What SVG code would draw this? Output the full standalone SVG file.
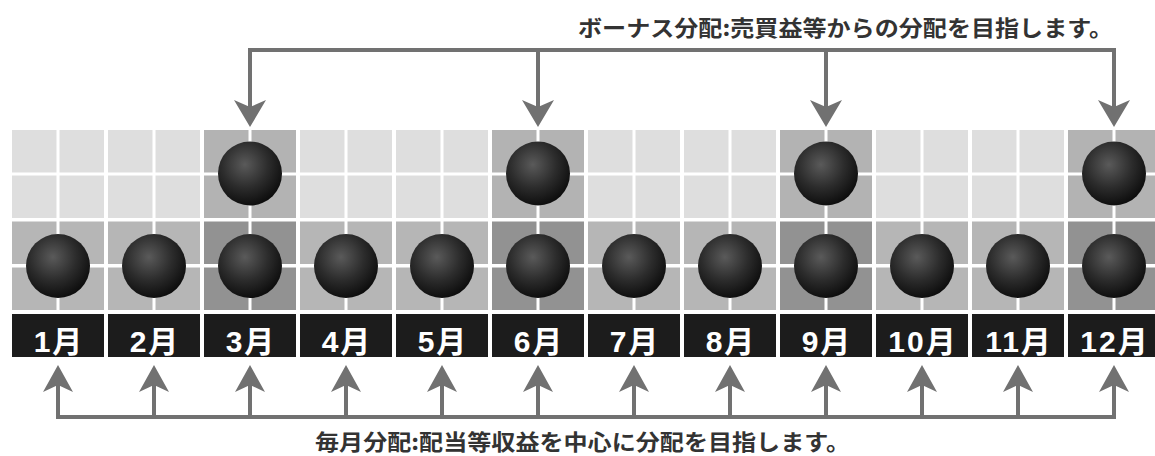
<svg xmlns="http://www.w3.org/2000/svg" width="1155" height="456" viewBox="0 0 1155 456">
<defs>
<radialGradient id="ball" cx="0.42" cy="0.36" r="0.66">
<stop offset="0" stop-color="#5a5a5a"/>
<stop offset="0.55" stop-color="#2c2c2c"/>
<stop offset="1" stop-color="#0c0c0c"/>
</radialGradient>
<g id="col">
<rect class="up" x="0" y="130" width="92" height="88"/>
<rect class="lo" x="0" y="221.5" width="92" height="88.5"/>
<rect class="wl" x="44.5" y="130" width="3" height="180"/>
<rect class="wl" x="0" y="172.5" width="92" height="3"/>
<rect class="wl" x="0" y="264" width="92" height="3.5"/>
<rect class="lb" x="0" y="314" width="92" height="43"/>
</g>
<g id="colH">
<rect class="upH" x="0" y="130" width="92" height="88"/>
<rect class="loH" x="0" y="221.5" width="92" height="88.5"/>
<rect class="wl" x="44.5" y="130" width="3" height="180"/>
<rect class="wl" x="0" y="172.5" width="92" height="3"/>
<rect class="wl" x="0" y="264" width="92" height="3.5"/>
<rect class="lb" x="0" y="314" width="92" height="43"/>
</g>
</defs>
<style>
.up{fill:#dedede}
.lo{fill:#b6b6b6}
.upH{fill:#b3b3b3}
.loH{fill:#929292}
.wl{fill:#ffffff}
.lb{fill:#1c1c1c}
.bl{fill:url(#ball)}
.mt{font-family:"Liberation Sans","Noto Sans CJK JP",sans-serif;font-weight:bold;font-size:30px;fill:#ffffff;text-anchor:middle;letter-spacing:2px}
.cap{font-family:"Noto Sans CJK JP",sans-serif;font-weight:bold;font-size:22px;fill:#333333}
.ln{fill:none;stroke:#717171;stroke-width:4}
.ah{fill:#717171}
</style>
<rect x="0" y="0" width="1155" height="456" fill="#ffffff"/>
<g id="m1"><use href="#col" x="12"/><circle class="bl" cx="58" cy="266" r="32"/><text class="mt" x="59" y="352">1月</text></g>
<g id="m2"><use href="#col" x="108"/><circle class="bl" cx="154" cy="266" r="32"/><text class="mt" x="155" y="352">2月</text></g>
<g id="m3"><use href="#colH" x="204"/><circle class="bl" cx="250" cy="173.5" r="32"/><circle class="bl" cx="250" cy="266" r="32"/><text class="mt" x="251" y="352">3月</text></g>
<g id="m4"><use href="#col" x="300"/><circle class="bl" cx="346" cy="266" r="32"/><text class="mt" x="347" y="352">4月</text></g>
<g id="m5"><use href="#col" x="396"/><circle class="bl" cx="442" cy="266" r="32"/><text class="mt" x="443" y="352">5月</text></g>
<g id="m6"><use href="#colH" x="492"/><circle class="bl" cx="538" cy="173.5" r="32"/><circle class="bl" cx="538" cy="266" r="32"/><text class="mt" x="539" y="352">6月</text></g>
<g id="m7"><use href="#col" x="588"/><circle class="bl" cx="634" cy="266" r="32"/><text class="mt" x="635" y="352">7月</text></g>
<g id="m8"><use href="#col" x="684"/><circle class="bl" cx="730" cy="266" r="32"/><text class="mt" x="731" y="352">8月</text></g>
<g id="m9"><use href="#colH" x="780"/><circle class="bl" cx="826" cy="173.5" r="32"/><circle class="bl" cx="826" cy="266" r="32"/><text class="mt" x="827" y="352">9月</text></g>
<g id="m10"><use href="#col" x="876"/><circle class="bl" cx="922" cy="266" r="32"/><text class="mt" x="923" y="352">10月</text></g>
<g id="m11"><use href="#col" x="972"/><circle class="bl" cx="1018" cy="266" r="32"/><text class="mt" x="1019" y="352">11月</text></g>
<g id="m12"><use href="#colH" x="1068"/><circle class="bl" cx="1114" cy="173.5" r="32"/><circle class="bl" cx="1114" cy="266" r="32"/><text class="mt" x="1115" y="352">12月</text></g>
<g id="connectors">
<path class="ln" d="M250,108 V50 H1114 V108 M538,50 V108 M826,50 V108"/>
<path class="ah" d="M250,127 L234,100 L250,107 L266,100 Z"/>
<path class="ah" d="M538,127 L522,100 L538,107 L554,100 Z"/>
<path class="ah" d="M826,127 L810,100 L826,107 L842,100 Z"/>
<path class="ah" d="M1114,127 L1098,100 L1114,107 L1130,100 Z"/>
<path class="ln" d="M58,385 V417 H1114 V385 M154,417 V385 M250,417 V385 M346,417 V385 M442,417 V385 M538,417 V385 M634,417 V385 M730,417 V385 M826,417 V385 M922,417 V385 M1018,417 V385"/>
<path class="ah" d="M58,365 L43,392 L58,385 L73,392 Z"/>
<path class="ah" d="M154,365 L139,392 L154,385 L169,392 Z"/>
<path class="ah" d="M250,365 L235,392 L250,385 L265,392 Z"/>
<path class="ah" d="M346,365 L331,392 L346,385 L361,392 Z"/>
<path class="ah" d="M442,365 L427,392 L442,385 L457,392 Z"/>
<path class="ah" d="M538,365 L523,392 L538,385 L553,392 Z"/>
<path class="ah" d="M634,365 L619,392 L634,385 L649,392 Z"/>
<path class="ah" d="M730,365 L715,392 L730,385 L745,392 Z"/>
<path class="ah" d="M826,365 L811,392 L826,385 L841,392 Z"/>
<path class="ah" d="M922,365 L907,392 L922,385 L937,392 Z"/>
<path class="ah" d="M1018,365 L1003,392 L1018,385 L1033,392 Z"/>
<path class="ah" d="M1114,365 L1099,392 L1114,385 L1129,392 Z"/>
</g>
<text class="cap" x="578" y="36" textLength="535" lengthAdjust="spacingAndGlyphs">ボーナス分配:売買益等からの分配を目指します。</text>
<text class="cap" x="315" y="450" textLength="535" lengthAdjust="spacingAndGlyphs">毎月分配:配当等収益を中心に分配を目指します。</text>
</svg>
